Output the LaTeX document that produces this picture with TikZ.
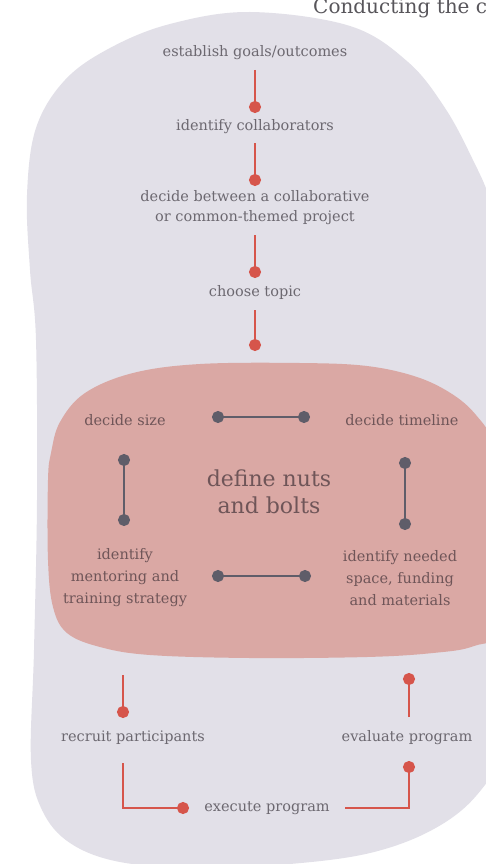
\documentclass[tikz,border=0pt]{standalone}
\usepackage{fontspec}
\setmainfont{DejaVu Serif}
\usetikzlibrary{arrows.meta}

\definecolor{blobgray}{HTML}{E2E0E8}
\definecolor{blobpink}{HTML}{DAA8A4}
\definecolor{accent}{HTML}{D6554B}
\definecolor{knot}{HTML}{5F5D69}
\definecolor{greytext}{HTML}{6C6870}
\definecolor{pinktext}{HTML}{6F5558}
\definecolor{titletext}{HTML}{58565B}

\tikzset{
  stage/.style={font=\fontsize{14.5}{20}\selectfont, text=greytext, align=center, inner sep=0pt},
  task/.style={font=\fontsize{14.5}{22}\selectfont, text=pinktext, align=center, inner sep=0pt},
  core/.style={font=\fontsize{22}{27}\selectfont, text=pinktext, align=center, inner sep=0pt},
  flow/.style={draw=accent, line width=2.2pt, -{Circle[length=12pt]}},
  link/.style={draw=knot, line width=2pt, {Circle[length=12pt]}-{Circle[length=12pt]}},
}

\begin{document}
\begin{tikzpicture}[x=1pt, y=-1pt]
  \useasboundingbox (0,0) rectangle (486,864);
  \clip (0,0) rectangle (486,864);
  \fill[white] (0,0) rectangle (486,864);

  % outer process blob
  \fill[blobgray] plot[smooth cycle, tension=0.6] coordinates {
    (250,12) (350,26) (408,62) (445,108) (472,158) (492,205) (515,290)
    (525,450) (522,650) (505,745) (476,796) (432,830) (370,853) (290,864)
    (200,868) (120,862) (70,843) (42,810) (31,760) (34,650) (37,500)
    (36,340) (30,270) (27,195) (36,128) (65,80) (110,48) (170,24)};

  % inner "nuts and bolts" blob
  \fill[blobpink] plot[smooth cycle, tension=0.6] coordinates {
    (200,364) (300,363) (367,366) (417,377) (452,394) (476,415) (494,445)
    (512,520) (508,625) (474,646) (433,653) (367,657) (250,658) (150,655)
    (100,647) (67,633) (53,607) (48,560) (48,480) (51,453) (60,422)
    (85,393) (133,373)};

  % heading
  \node[anchor=base west, font=\fontsize{20}{20}\selectfont, text=titletext, inner sep=0pt]
    (title) at (313,14) {Conducting the c};

  % planning steps
  \node[stage] (goals)   at (255,53)  {establish goals/outcomes};
  \node[stage] (collab)  at (255,127) {identify collaborators};
  \node[stage] (between) at (255,208) {decide between a collaborative\\or common-themed project};
  \node[stage] (topic)   at (255,292) {choose topic};
  \coordinate (pinktop) at (255,363);

  \draw[flow, shorten <=17pt, shorten >=14pt] (goals.center) -- (collab.center);
  \draw[flow, shorten <=16pt, shorten >=22pt] (collab.center) -- (between.center);
  \draw[flow, shorten <=27pt, shorten >=14pt] (between.center) -- (topic.center);
  \draw[flow, shorten <=18pt, shorten >=12pt] (topic.center) -- (pinktop);

  % nuts and bolts
  \node[core] (nuts) at (269,492) {define nuts\\and bolts};
  \node[task] (size)     at (125,420) {decide size};
  \node[task] (timeline) at (402,420) {decide timeline};
  \node[task] (mentor)   at (125,578) {identify\\mentoring and\\training strategy};
  \node[task] (needed)   at (400,578) {identify needed\\space, funding\\and materials};

  \draw[link, shorten <=87pt, shorten >=92pt] ([yshift=3pt]size.center) -- ([yshift=3pt]timeline.center);
  \draw[link, shorten <=87pt, shorten >=89pt] ([yshift=2pt]mentor.center) -- ([yshift=2pt]needed.center);
  \draw[link, shorten <=34pt, shorten >=52pt] ([xshift=-1pt]size.center) -- ([xshift=-1pt]mentor.center);
  \draw[link, shorten <=37pt, shorten >=48pt] ([xshift=3pt]timeline.center) -- ([xshift=3pt]timeline.center |- needed.center);

  % running the program
  \node[stage] (recruit)  at (133,738) {recruit participants};
  \node[stage] (evaluate) at (407,738) {evaluate program};
  \node[stage] (execute)  at (267,808) {execute program};
  \coordinate (pinkout) at (123,675);
  \coordinate (pinkin)  at (409,673);

  \draw[flow, shorten >=20pt] (pinkout) -- (pinkout |- recruit.center);
  \draw[flow, shorten <=21pt] (pinkin |- evaluate.center) -- (pinkin);
  \draw[flow, shorten <=25pt, shorten >=78pt] ([xshift=-10pt]recruit.center) |- (execute.center);
  \draw[flow, shorten <=78pt, shorten >=23pt] (execute.center) -| ([xshift=2pt]evaluate.center);
\end{tikzpicture}
\end{document}
